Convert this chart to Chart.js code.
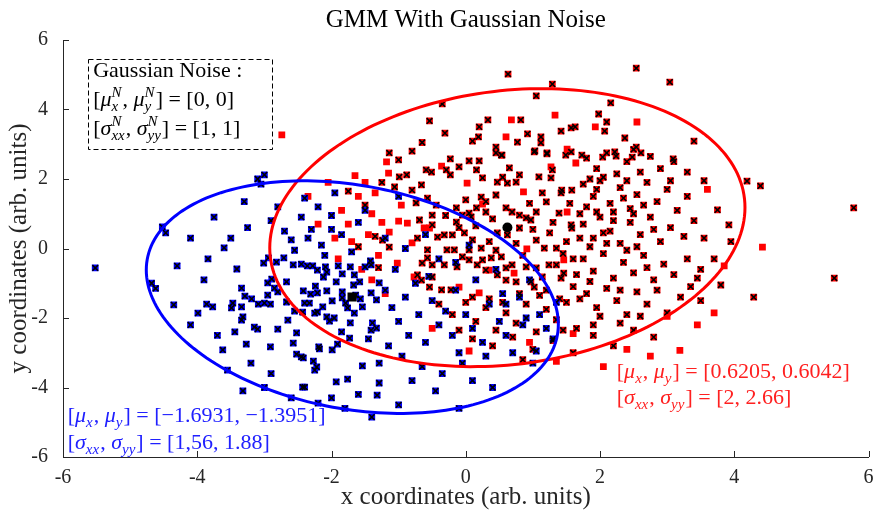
<!DOCTYPE html>
<html>
<head>
<meta charset="utf-8">
<script src="https://cdn.jsdelivr.net/npm/chart.js@4.4.1/dist/chart.umd.min.js"></script>
<style>
  html, body { margin: 0; padding: 0; background: #fff; }
  #wrap { width: 875px; height: 517px; }
</style>
</head>
<body>
<div id="wrap"><canvas id="gmmChart"></canvas></div>
<script>
// red cluster points that also carry the black cross
var redCross = [
  [-0.23,2.58],[0.05,2.52],[0.2,2.52],[0.45,2.75],[0.53,2.69],[1.02,2.78],[1.21,2.75],[1.49,2.69],[1.57,2.78],
  [-0.88,2.12],[-0.99,2.06],[-0.66,1.83],[-0.51,2.2],[-0.29,2.26],[-0.23,2.12],[-0.1,2.35],[0.16,2.26],[0.25,2.03],
  [0.47,1.91],[0.62,1.88],[0.75,1.91],[0.8,2.12],[0.65,2.32],[1.29,2.26],[1.27,2.03],[1.09,2.06],[1.43,1.68],
  [1.58,1.68],[1.42,1.6],[1.14,1.6],[1.2,1.34],[1.05,1.05],[0.97,0.82],[1.39,1.02],[1.57,0.68],[1.58,0.59],
  [1.05,0.24],[1.17,0.01],[1.35,0.01],[1.24,-0.47],[1.35,-0.47],[1.46,-0.71],[1.42,-0.85],[1.14,-0.82],[1.05,-0.56],
  [0.9,-0.53],[0.69,-0.47],[0.6,-0.56],[0.53,-0.24],[0.38,-0.27],[0.25,-0.33],[0.23,0.01],[0.05,-0.04],[-0.05,-0.24],
  [-0.17,-0.04],[-0.28,-0.04],[-0.42,0.33],[-0.32,0.39],[-0.2,0.39],[-0.02,0.45],[-0.5,0.68],[-0.14,0.76],[0.05,1.02],
  [0.16,1.17],[0.3,1.05],[0.23,1.48],[0.45,1.54],[0.6,1.17],[0.69,1.05],[0.8,0.96],[0.9,0.88],[0.62,0.39],[0.8,0.59],
  [0.47,0.45],[-0.57,-0.04],[-0.72,0.3],[-1.24,0.24],[-1.14,0.04],[-0.57,-0.27],[-0.65,-0.42],[-0.72,-0.76],[-0.66,-0.91],
  [-0.54,-1.11],[-0.5,-0.82],[-0.36,-1.19],[-0.22,-1.19],[-0.5,-0.47],[-0.32,-0.47],[-0.13,-0.53],[0.05,-0.33],[0.17,-0.47],
  [0.3,-0.62],[0.47,-0.76],[0.6,-0.91],[0.75,-0.96],[0.97,-0.96],[1.02,-1.11],[-0.74,1.31],[-0.8,1.68],[-0.57,1.45],
  [-0.44,1.25],[-0.5,0.96],[-0.14,1.17],[-0.05,0.96],[0.08,0.91],[-0.69,0.82],[-1.06,1.77],[-0.59,2.26],[-1.14,2.75],
  [0.35,0.2],[0.15,0.65],[0.4,0.85],[1.25,0.45],[1.5,0.2],[0.3,1.35],[0.95,1.3],[1.3,0.75],[0.1,0.25],[-0.3,0.95],
  [0.0,1.4],[0.55,2.05],[1.0,0.55],[0.75,0.15],[0.85,-0.2],[1.45,-0.15],[0.45,-0.05],[-0.1,0.6],[1.55,1.3],[1.6,-0.3],
  // right part
  [1.8,2.6],[1.95,2.3],[2.1,2.75],[2.25,2.15],[2.4,2.5],[2.6,2.2],[2.75,2.65],[2.9,2.3],[3.1,2.5],[2.05,2.05],
  [1.85,2.0],[2.5,2.85],[3.3,2.2],[1.75,1.85],[1.9,1.5],[2.0,1.95],[2.15,1.3],[2.3,1.75],[2.45,1.15],[2.55,1.55],
  [2.7,1.9],[2.85,1.35],[3.0,1.7],[3.15,1.1],[3.3,1.5],[1.8,1.2],[2.2,1.05],[2.65,1.25],[1.95,1.7],[3.05,1.95],
  [2.4,1.95],[1.75,0.7],[1.9,0.3],[2.0,0.9],[2.15,0.5],[2.3,0.15],[2.45,0.75],[2.6,0.4],[2.75,0.9],[2.9,0.2],
  [3.05,0.6],[3.25,0.35],[1.85,0.05],[2.2,0.8],[2.55,0.05],[3.4,0.8],[2.05,0.45],[2.8,0.55],[1.75,-0.3],[1.9,-0.65],
  [2.05,-0.15],[2.2,-0.85],[2.35,-0.4],[2.5,-0.7],[2.65,-0.2],[2.8,-0.9],[2.95,-0.45],[3.1,-0.75],[3.3,-0.3],[1.85,-0.95],
  [2.4,-0.05],[2.7,-0.55],[3.5,-0.6],[1.8,-1.3],[1.95,-1.7],[2.1,-1.15],[2.25,-1.5],[2.4,-1.9],[2.55,-1.25],[2.7,-1.6],
  [2.85,-1.2],[3.0,-1.85],[3.2,-1.4],[2.0,-1.95],[2.6,-1.95],[3.35,-1.1],
  [1.7,1.0],[2.35,1.45],[2.1,0.15],[1.65,-0.75],[2.3,-1.2],[1.95,1.05],[2.5,1.0],[1.7,0.3],
  // lower part
  [-0.4,-1.6],[-0.2,-1.9],[0.0,-1.55],[0.15,-2.1],[0.3,-1.7],[0.45,-2.35],[0.6,-1.85],[0.75,-2.15],[0.9,-1.6],[1.05,-2.4],
  [1.2,-1.75],[1.35,-2.05],[1.5,-1.55],[1.65,-2.3],[0.1,-2.6],[0.4,-2.8],[0.7,-2.55],[1.0,-2.9],[1.3,-2.65],[1.6,-3.0],
  [1.9,-2.5],[2.2,-2.8],[2.5,-2.35],[0.85,-3.2],[1.45,-2.35],[-0.1,-2.35],[0.55,-1.55],[1.1,-1.35],[0.35,-1.45],[1.7,-1.45],
  [2.8,-2.55],[1.9,-2.2],[2.3,-2.15],[1.2,-1.2],[1.4,-1.45],[1.6,-1.1],[0.8,-1.3],[0.1,-1.4],
  // upper part
  [0.63,5.02],[1.29,4.73],[1.05,4.39],[2.54,5.19],[3.04,4.79],[-0.35,4.16],[2.16,4.19],[-0.54,3.67],[0.33,3.7],[0.2,3.5],
  [0.82,3.7],[0.92,3.3],[1.12,3.21],[1.12,3.04],[1.42,3.38],[1.57,3.47],[1.63,3.5],[1.98,3.87],[2.1,3.64],[2.07,3.38],
  [2.37,3.18],[2.54,2.92],[2.61,2.75],[3.4,3.09],[3.09,2.58],[-0.31,3.32],[0.1,3.09],[0.19,3.21],[0.45,2.92],[0.54,2.69],
  [0.77,3.06],[1.03,2.81],[1.21,2.72],[1.73,2.69],[2.04,2.63],[2.22,2.78],[2.24,2.66],[2.48,2.63],[-0.8,2.8],[-1.0,2.55],
  [-0.65,3.05],
  // left part
  [-1.5,1.25],[-1.35,0.35],[-1.75,1.65],[-1.25,1.9],[-1.6,0.05],[-1.3,-0.55],
  // far right
  [4.19,1.94],[4.39,1.8],[3.75,1.11],[3.92,0.68],[5.78,1.17],[5.49,-0.85],[4.29,-1.4],[3.55,0.3],[3.7,-0.3],[3.45,-0.85],
  [3.8,-1.05],[3.55,1.95],[3.95,0.2],[3.5,-1.5]
];

// red points without the cross
var redPlain = [
  [-1.18,2.49],[-1.15,2.17],[-0.36,2.37],[0.02,1.88],[0.25,1.28],[0.86,1.63],[0.91,-0.01],[-0.96,1.25],[-1.0,0.79],[-0.87,0.73],
  [-1.14,0.47],[-0.62,0.59],[-0.54,0.59],[-0.8,0.16],[-1.02,-0.42],[-0.77,-0.82],[0.2,-1.28],[-0.1,-1.11],[0.35,-0.62],[0.72,-0.71],
  [1.46,-0.33],[1.51,1.05],[1.64,2.46],[1.27,2.35],[1.33,3.84],[0.68,3.7],[0.6,3.21],[1.93,3.5],[2.55,3.64],[1.51,2.86],
  [-1.85,1.1],[-1.75,0.7],[-1.6,1.5],[-1.45,0.4],[-1.4,1.0],[-1.3,-0.2],[-1.55,-0.6],[-1.35,1.6],[-1.7,0.2],[-1.95,0.3],
  [-1.25,0.75],[-1.5,1.9],[-2.2,0.7],[-2.35,1.5],[-1.9,-0.3],[-1.4,-0.9],[-1.2,-1.3],[-1.65,2.1],[-2.05,1.9],
  [0.95,-2.7],[1.6,-2.45],[2.4,-2.9],[2.05,-3.4],[3.0,-1.95],[3.45,-2.2],[3.7,-1.85],[0.05,-2.95],[-0.5,-2.3],[3.19,-2.93],
  [2.75,-3.1],[1.35,-3.25],[4.42,0.04],[3.85,-0.5],[3.6,1.7],[-2.74,3.27]
];

// blue cluster points (all with cross)
var blueCross = [
  [-3.84,-0.3],[-3.41,-0.59],[-3.01,-0.42],[-2.94,-0.27],[-2.82,-0.39],[-2.71,-0.27],[-2.57,-0.47],[-2.45,-0.45],[-2.36,-0.5],[-2.28,-0.5],
  [-2.21,-0.62],[-2.09,-0.53],[-2.07,-0.68],[-1.9,-0.5],[-1.72,-0.53],[-1.66,-0.76],[-1.5,-0.53],[-1.42,-0.36],[-1.41,-0.47],[-2.12,-0.82],
  [-1.93,-0.96],[-1.84,-0.73],[-2.07,-1.22],[-2.24,-1.08],[-2.42,-1.22],[-2.31,-1.31],[-2.21,-1.28],[-1.99,-1.51],[-1.84,-1.25],[-1.84,-1.42],
  [-1.79,-1.57],[-1.67,-1.05],[-1.58,-0.96],[-1.64,-1.34],[-1.57,-1.45],[-1.54,-1.68],[-1.76,-1.71],[-1.66,-1.86],[-1.41,-1.28],[-1.33,-1.48],
  [-1.39,-2.14],[-1.33,-2.29],[-1.41,-2.35],[-1.45,-2.6],[-1.72,-2.14],[-1.85,-2.4],[-1.91,-2.75],[-1.99,-2.92],[-2.19,-2.83],[-2.18,-2.89],
  [-1.73,-2.58],[-1.29,-3.87],[-1.54,-3.38],[-1.93,-3.84],[-1.76,-3.76],[-2.27,-3.24],[-2.22,-3.41],[-2.25,-3.5],[-2.43,-3.99],[-2.4,-3.99],
  [-2.52,-3.04],[-2.45,-3.12],[-2.42,-3.15],[-2.57,-2.72],[-2.91,-2.83],[-3.27,-2.75],[-3.62,-2.92],[-3.32,-4.1],[-3.44,-2.4],[-2.8,-2.32],
  [-2.52,-2.43],[-2.65,-2.06],[-3.34,-1.14],[-3.29,-1.37],[-3.19,-1.45],[-2.95,-1.34],[-3.0,-1.57],[-2.91,-1.6],[-3.09,-1.6],[-3.34,-1.68],
  [-3.47,-1.57],[-3.49,-1.71],[-3.77,-1.68],[-3.86,-1.6],[-3.99,-1.86],[-3.32,-1.97],[-3.34,-2.06],[-3.15,-2.26],[-3.1,-2.32],[-2.67,-1.54],
  [-2.55,-1.8],[-2.4,-1.57],[-2.43,-1.83],[-2.33,-1.57],[-2.25,-1.86],[-2.21,-1.83],[-2.13,-1.68],[-2.07,-1.97],[-2.03,-2.09],[-1.96,-2.0],
  [-2.85,-1.14],[-2.8,-1.25],[-2.67,-0.96],[-2.95,-0.99],[-2.89,-0.88],[-1.29,-0.99],[-1.29,-3.3],[-1.32,-4.22],
  [-1.2,-1.2],[-1.1,-1.7],[-1.0,-2.1],[-0.9,-1.4],[-0.85,-2.5],[-0.75,-1.0],[-0.7,-1.9],[-0.6,-2.7],[-0.5,-1.5],[-0.4,-2.2],
  [-0.3,-1.8],[-0.2,-2.5],[-0.1,-3.0],[0.0,-1.9],[0.1,-2.3],[0.25,-2.7],[0.35,-1.6],[0.5,-2.1],[-1.15,-2.8],[-0.95,-3.1],
  [-0.65,-3.4],[-0.35,-3.6],[-0.05,-3.3],[0.3,-3.1],[0.6,-2.5],[0.85,-2.2],[1.1,-1.9],[1.3,-2.6],[0.7,-3.0],[-1.05,-0.6],
  [-0.55,-0.8],[-0.15,-1.2],[0.15,-0.9],[0.55,-1.3],[-0.8,-3.8],[-0.45,-4.1],[-0.1,-4.6],[-1.0,-4.5],[-1.4,-4.85],[-1.8,-4.6],
  [0.4,-4.0],[0.1,-3.8],[-2.0,-4.3],[1.0,-3.3],[-1.6,-4.2],
  [-3.1,2.0],[-3.0,2.12],[-3.05,1.85],[-3.3,1.35],[-2.8,1.2],[-2.7,0.5],[-2.6,0.25],[-3.75,0.9],[-3.5,0.3],[-3.6,0.02],
  [-3.25,0.6],[-2.45,0.9],[-2.3,0.55],[-2.15,0.1],[-2.0,0.95],[-1.85,0.4],[-1.6,0.75],[-2.4,1.45],[-2.2,1.2],[-1.95,1.6],
  [-2.55,-0.05],[-2.35,0.3],[-2.1,-0.2],[-1.7,-0.1],[-1.2,0.3],[-0.9,0.0],[-0.4,-0.3],[-2.9,0.8],[-2.0,0.55],[-1.5,1.1],
  [-1.0,1.5],[-0.6,0.4],[-0.15,-0.4],[0.05,0.1],[-4.1,0.3],[-3.9,-0.9],[-4.3,-0.5],
  [-5.52,-0.56],[-4.52,0.62],[-4.47,0.45],[-4.68,-1.0],[-4.62,-1.15],[-4.35,-1.62],[-4.1,-2.2],[-3.7,-2.5],[-3.55,-3.5],[-3.2,-3.3],
  [-2.9,-3.6],[-2.6,-4.3],[-2.2,-4.45],[-3.0,-4.0],
  [0.8,-1.4],[1.05,-2.95],[1.2,-2.3],[0.9,-2.0],[0.6,-1.6],[1.35,-1.55],[0.45,-0.6],[0.95,-0.9]
];

var redMean = [0.6205, 0.6042];
var blueMean = [-1.6931, -1.3951];

// ellipses: [cx, cy, var x, var y, cov xy]
var redEllipse = [0.62, 0.60, 12.53, 16.0, 2.05];
var blueEllipse = [-1.69, -1.40, 9.42, 11.2, -2.4];

var xTicks = [-6, -4, -2, 0, 2, 4, 6];
var yTicks = [-6, -4, -2, 0, 2, 4, 6];

var serif = '"Liberation Serif", "Times New Roman", serif';
var ink = '#262626';

function pts(list) {
  return list.map(function (p) { return { x: p[0], y: p[1] }; });
}

// text with math-style subscripts / superscripts
function drawMath(ctx, x, y, parts, size, color) {
  var cx = x;
  ctx.fillStyle = color;
  ctx.textAlign = 'left';
  ctx.textBaseline = 'alphabetic';
  parts.forEach(function (p) {
    var t = p[0], st = p[1];
    if (st === 'n' || st === 'i') {
      ctx.font = (st === 'i' ? 'italic ' : '') + size + 'px ' + serif;
      ctx.fillText(t, cx, y);
      cx += ctx.measureText(t).width;
    } else {
      var small = Math.round(size * 0.7);
      ctx.font = 'italic ' + small + 'px ' + serif;
      var w = 0;
      if (t[0]) { ctx.fillText(t[0], cx, y + size * 0.22); w = ctx.measureText(t[0]).width; }
      if (t[1]) { ctx.fillText(t[1], cx, y - size * 0.42); w = Math.max(w, ctx.measureText(t[1]).width); }
      cx += w + 1;
    }
  });
}

function traceEllipse(ctx, xs, ys, e) {
  var sa = Math.sqrt(e[2]), k = e[4] / sa, sb = Math.sqrt(e[3] - k * k);
  ctx.beginPath();
  for (var i = 0; i <= 200; i++) {
    var t = i / 200 * 2 * Math.PI;
    var px = xs.getPixelForValue(e[0] + sa * Math.cos(t));
    var py = ys.getPixelForValue(e[1] + k * Math.cos(t) + sb * Math.sin(t));
    if (i === 0) ctx.moveTo(px, py); else ctx.lineTo(px, py);
  }
  ctx.closePath();
}

var noiseLines = [
  [['Gaussian Noise :', 'n']],
  [['[', 'n'], ['\u03bc', 'i'], [['x', 'N'], 's'], [', ', 'n'], ['\u03bc', 'i'], [['y', 'N'], 's'], ['] = [0, 0]', 'n']],
  [['[', 'n'], ['\u03c3', 'i'], [['xx', 'N'], 's'], [', ', 'n'], ['\u03c3', 'i'], [['yy', 'N'], 's'], ['] = [1, 1]', 'n']]
];
var redLines = [
  [['[', 'n'], ['\u03bc', 'i'], [['x', ''], 's'], [', ', 'n'], ['\u03bc', 'i'], [['y', ''], 's'], ['] = [0.6205, 0.6042]', 'n']],
  [['[', 'n'], ['\u03c3', 'i'], [['xx', ''], 's'], [', ', 'n'], ['\u03c3', 'i'], [['yy', ''], 's'], ['] = [2, 2.66]', 'n']]
];
var blueLines = [
  [['[', 'n'], ['\u03bc', 'i'], [['x', ''], 's'], [', ', 'n'], ['\u03bc', 'i'], [['y', ''], 's'], ['] = [\u22121.6931, \u22121.3951]', 'n']],
  [['[', 'n'], ['\u03c3', 'i'], [['xx', ''], 's'], [', ', 'n'], ['\u03c3', 'i'], [['yy', ''], 's'], ['] = [1,56, 1.88]', 'n']]
];

var extras = {
  id: 'extras',
  afterDatasetsDraw: function (chart) {
    var ctx = chart.ctx, xs = chart.scales.x, ys = chart.scales.y;
    ctx.save();
    ctx.lineWidth = 3;
    ctx.strokeStyle = '#ff0000';
    traceEllipse(ctx, xs, ys, redEllipse);
    ctx.stroke();
    ctx.strokeStyle = '#0000ff';
    traceEllipse(ctx, xs, ys, blueEllipse);
    ctx.stroke();
    ctx.restore();
  },
  afterDraw: function (chart) {
    var ctx = chart.ctx, xs = chart.scales.x, ys = chart.scales.y, a = chart.chartArea;
    ctx.save();
    // inward tick marks
    ctx.strokeStyle = ink;
    ctx.lineWidth = 1;
    ctx.beginPath();
    xs.ticks.forEach(function (t) {
      var px = Math.round(xs.getPixelForValue(t.value)) + 0.5;
      ctx.moveTo(px, a.bottom); ctx.lineTo(px, a.bottom - 6);
    });
    ys.ticks.forEach(function (t) {
      var py = Math.round(ys.getPixelForValue(t.value)) + 0.5;
      ctx.moveTo(a.left, py); ctx.lineTo(a.left + 6, py);
    });
    ctx.stroke();

    // title
    ctx.fillStyle = '#000';
    ctx.font = '25px ' + serif;
    ctx.textAlign = 'center';
    ctx.textBaseline = 'alphabetic';
    ctx.fillText('GMM With Gaussian Noise', (a.left + a.right) / 2, 27);

    // noise box
    var bx0 = xs.getPixelForValue(-5.63), bx1 = xs.getPixelForValue(-2.89);
    var by0 = ys.getPixelForValue(5.45), by1 = ys.getPixelForValue(2.86);
    ctx.setLineDash([5, 3]);
    ctx.strokeStyle = '#000';
    ctx.strokeRect(Math.round(bx0) + 0.5, Math.round(by0) + 0.5, Math.round(bx1 - bx0), Math.round(by1 - by0));
    ctx.setLineDash([]);
    var tx = xs.getPixelForValue(-5.55);
    drawMath(ctx, tx, ys.getPixelForValue(4.94), noiseLines[0], 22, '#000');
    drawMath(ctx, tx, ys.getPixelForValue(4.1), noiseLines[1], 22, '#000');
    drawMath(ctx, tx, ys.getPixelForValue(3.27), noiseLines[2], 22, '#000');

    // cluster labels
    var rx = xs.getPixelForValue(2.25);
    drawMath(ctx, rx, ys.getPixelForValue(-3.73), redLines[0], 22, '#ff2020');
    drawMath(ctx, rx, ys.getPixelForValue(-4.47), redLines[1], 22, '#ff2020');
    var lx = xs.getPixelForValue(-5.93);
    drawMath(ctx, lx, ys.getPixelForValue(-4.99), blueLines[0], 22, '#2020ff');
    drawMath(ctx, lx, ys.getPixelForValue(-5.77), blueLines[1], 22, '#2020ff');
    ctx.restore();
  }
};

new Chart(document.getElementById('gmmChart'), {
  type: 'scatter',
  data: {
    datasets: [
      {
        label: 'crosses',
        data: pts(redCross.concat(blueCross)),
        pointStyle: 'crossRot',
        pointRadius: 4,
        borderColor: '#000',
        borderWidth: 1.6,
        order: 1
      },
      {
        label: 'blue mean',
        data: pts([blueMean]),
        pointStyle: 'rect',
        pointRadius: 6.5,
        backgroundColor: '#000',
        borderWidth: 0,
        order: 0
      },
      {
        label: 'red mean',
        data: pts([redMean]),
        pointStyle: 'circle',
        pointRadius: 5,
        backgroundColor: '#000',
        borderWidth: 0,
        order: 0
      },
      {
        label: 'blue',
        data: pts(blueCross),
        pointStyle: 'rect',
        pointRadius: 4.8,
        backgroundColor: '#0000ff',
        borderWidth: 0,
        order: 2
      },
      {
        label: 'red',
        data: pts(redCross.concat(redPlain)),
        pointStyle: 'rect',
        pointRadius: 4.8,
        backgroundColor: '#ff0000',
        borderWidth: 0,
        order: 3
      }
    ]
  },
  options: {
    responsive: true,
    maintainAspectRatio: false,
    animation: false,
    events: [],
    layout: { padding: { top: 40, right: 5, left: 0, bottom: 0 } },
    plugins: { legend: { display: false }, tooltip: { enabled: false } },
    scales: {
      x: {
        type: 'linear',
        min: -6, max: 6,
        afterBuildTicks: function (s) { s.ticks = xTicks.map(function (v) { return { value: v }; }); },
        afterFit: function (s) { s.height = 60; },
        grid: { display: false },
        border: { display: true, color: ink, width: 1 },
        ticks: { font: { family: serif, size: 20 }, color: ink, padding: 1, maxRotation: 0,
                 callback: function (v) { return String(v); } },
        title: { display: true, text: 'x coordinates (arb. units)', color: ink,
                 font: { family: serif, size: 25 }, padding: { top: 0, bottom: 5 } }
      },
      y: {
        type: 'linear',
        min: -6, max: 6,
        afterBuildTicks: function (s) { s.ticks = yTicks.map(function (v) { return { value: v }; }); },
        afterFit: function (s) { s.width = 63; },
        grid: { display: false },
        border: { display: true, color: ink, width: 1 },
        ticks: { font: { family: serif, size: 20 }, color: ink, padding: 7,
                 callback: function (v) { return String(v); } },
        title: { display: true, text: 'y coordinates (arb. units)', color: ink,
                 font: { family: serif, size: 25 }, padding: { top: 4, bottom: 0 } }
      }
    }
  },
  plugins: [extras]
});
</script>
</body>
</html>
